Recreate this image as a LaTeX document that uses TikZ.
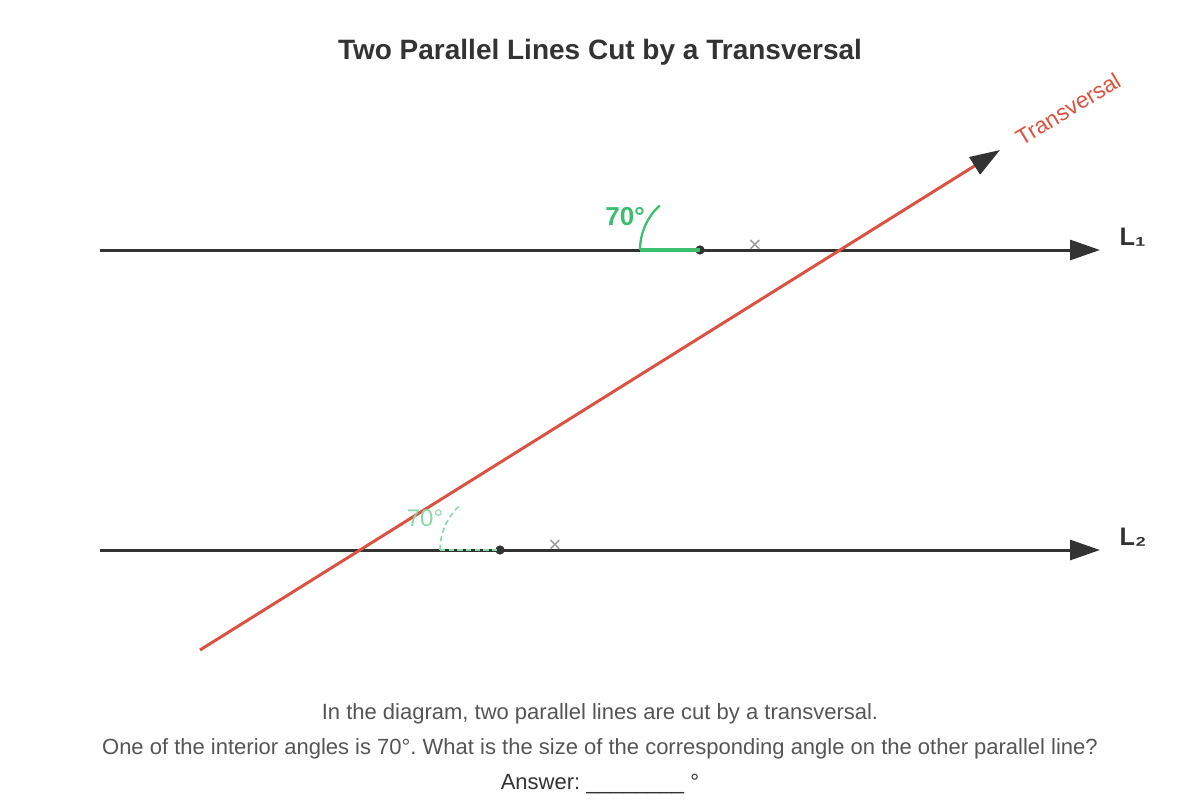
\documentclass[tikz,border=0pt]{standalone}
\usepackage{fontspec}
\setmainfont{Liberation Sans}
\usetikzlibrary{arrows.meta,positioning}
\definecolor{inkdark}{HTML}{333333}
\definecolor{transred}{HTML}{DB5240}
\definecolor{anglegreen}{HTML}{3BBE6E}
\definecolor{textgray}{HTML}{555555}
\frenchspacing

\begin{document}
\begin{tikzpicture}[x=0.75pt,y=-0.75pt,
        parline/.style={
            draw=inkdark,
            line width=2.25pt,
            -{Triangle[length=22.5pt,width=15pt]}},
        transline/.style={
            draw=transred,
            line width=2.25pt,
            -{Triangle[length=22.5pt,width=15pt,color=inkdark]}},
        vertexdot/.style={circle,fill=inkdark,inner sep=0pt,minimum size=7pt},
        crossmark/.style={text=gray!80,font=\fontsize{17pt}{17pt}\selectfont,inner sep=0pt},
        linelabel/.style={text=inkdark,font=\bfseries\fontsize{19pt}{19pt}\selectfont,anchor=west},
        questiontext/.style={text=textgray,font=\fontsize{16.5pt}{16.5pt}\selectfont}
        ]
        \useasboundingbox (0,0) rectangle (1200,800);

        \node[text=inkdark,font=\bfseries\fontsize{21pt}{21pt}\selectfont] (title) at (600,52)
            {Two Parallel Lines Cut by a Transversal};

        % parallel lines
        \foreach \n/\y in {1/250,2/550} {
            \coordinate (start\n) at (100,\y);
            \coordinate (end\n) at (1100,\y);
            \draw[parline] (start\n) -- (end\n);
            \node[linelabel] (label\n) at (1115,\y-13) {L\ifnum\n=1 ₁\else ₂\fi};
        }

        % transversal
        \coordinate (tstart) at (200,650);
        \coordinate (tend) at (1000,150);
        \draw[transline] (tstart) -- (tend);
        \node[text=transred,rotate=31,font=\fontsize{17pt}{17pt}\selectfont] (tlabel) at (1068,109) {Transversal};

        % given angle on L1
        \coordinate (arcA) at (640,250);
        \node[vertexdot] (vertexA) at (700,250) {};
        \draw[anglegreen,line width=2.6pt] (arcA) -- (vertexA.center);
        \draw[anglegreen,line width=1.7pt] (arcA) arc[start angle=180,end angle=228,radius=60];
        \node[text=anglegreen,font=\bfseries\fontsize{19.5pt}{19.5pt}\selectfont] (angleA) at (625,217) {70°};
        \node[crossmark] (crossA) at (755,246) {×};

        % corresponding angle on L2
        \coordinate (arcB) at (440,550);
        \node[vertexdot] (vertexB) at (500,550) {};
        \draw[anglegreen!60,line width=1.5pt,dash pattern=on 4pt off 2.5pt] (arcB) -- (vertexB.center);
        \draw[anglegreen!60,line width=1.2pt,dash pattern=on 4pt off 2.5pt] (arcB) arc[start angle=180,end angle=228,radius=60];
        \node[text=anglegreen!60,font=\fontsize{18pt}{18pt}\selectfont] (angleB) at (425,518) {70°};
        \node[crossmark] (crossB) at (555,546) {×};

        % question
        \node[questiontext] (q1) at (600,714) {In the diagram, two parallel lines are cut by a transversal.};
        \node[questiontext] (q2) at (600,749) {One of the interior angles is 70°. What is the size of the corresponding angle on the other parallel line?};
        \node[questiontext,text=inkdark] (answer) at (600,784) {Answer: \_\_\_\_\_\_\_\_ °};
\end{tikzpicture}
\end{document}
